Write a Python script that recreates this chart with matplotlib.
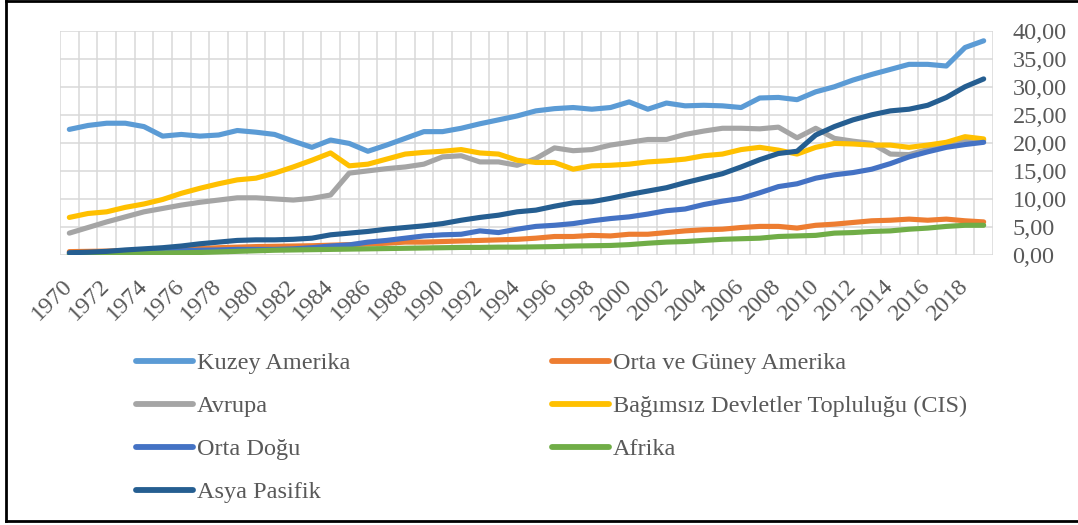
import numpy as np
import matplotlib.pyplot as plt
from matplotlib.lines import Line2D

plt.rcParams['font.family'] = ['Liberation Serif', 'DejaVu Serif']

years = list(range(1970, 2020))

kuzey_amerika = [22.4, 23.1, 23.5, 23.5, 22.9, 21.2, 21.5, 21.2, 21.4, 22.2,
                 21.9, 21.5, 20.3, 19.2, 20.5, 19.9, 18.5, 19.6, 20.8, 22.0,
                 22.0, 22.6, 23.4, 24.1, 24.8, 25.7, 26.1, 26.3, 26.0, 26.3,
                 27.3, 26.0, 27.1, 26.6, 26.7, 26.6, 26.3, 28.0, 28.1, 27.7,
                 29.1, 30.0, 31.2, 32.2, 33.1, 34.0, 34.0, 33.7, 37.0, 38.2]
orta_guney = [0.6, 0.65, 0.7, 0.8, 0.85, 0.95, 1.05, 1.15, 1.3, 1.4,
              1.5, 1.55, 1.6, 1.65, 1.75, 1.85, 1.95, 2.1, 2.3, 2.3,
              2.4, 2.5, 2.6, 2.7, 2.8, 3.0, 3.3, 3.3, 3.5, 3.4,
              3.7, 3.7, 4.0, 4.3, 4.5, 4.6, 4.9, 5.1, 5.1, 4.8,
              5.3, 5.5, 5.8, 6.1, 6.2, 6.4, 6.2, 6.4, 6.1, 5.9]
avrupa = [3.9, 4.9, 5.9, 6.8, 7.7, 8.3, 8.9, 9.4, 9.8, 10.2,
          10.2, 10.0, 9.8, 10.1, 10.7, 14.6, 15.0, 15.4, 15.7, 16.2,
          17.5, 17.7, 16.6, 16.6, 16.0, 17.2, 19.1, 18.6, 18.8, 19.6,
          20.1, 20.6, 20.6, 21.5, 22.1, 22.6, 22.6, 22.5, 22.8, 20.9,
          22.6, 20.8, 20.3, 19.9, 18.0, 17.9, 18.8, 19.8, 20.6, 20.5]
cis = [6.7, 7.4, 7.7, 8.5, 9.1, 9.9, 11.0, 11.9, 12.7, 13.4,
       13.7, 14.6, 15.7, 16.9, 18.2, 15.9, 16.2, 17.1, 18.0, 18.3,
       18.5, 18.8, 18.2, 18.0, 16.9, 16.5, 16.5, 15.3, 15.9, 16.0,
       16.2, 16.6, 16.8, 17.1, 17.7, 18.0, 18.8, 19.2, 18.7, 18.0,
       19.2, 19.9, 19.8, 19.6, 19.6, 19.2, 19.6, 20.1, 21.1, 20.7]
orta_dogu = [0.3, 0.35, 0.4, 0.5, 0.55, 0.6, 0.75, 0.85, 0.9, 1.0,
             1.0, 1.0, 1.1, 1.3, 1.6, 1.8, 2.3, 2.6, 3.0, 3.4,
             3.6, 3.7, 4.3, 4.0, 4.6, 5.1, 5.3, 5.6, 6.1, 6.5,
             6.8, 7.3, 7.9, 8.2, 9.0, 9.6, 10.1, 11.1, 12.2, 12.7,
             13.7, 14.3, 14.7, 15.3, 16.3, 17.5, 18.4, 19.2, 19.7, 20.1]
afrika = [0.1, 0.15, 0.2, 0.25, 0.3, 0.35, 0.4, 0.45, 0.55, 0.65,
          0.75, 0.85, 0.9, 0.95, 1.0, 1.05, 1.1, 1.15, 1.2, 1.25,
          1.3, 1.35, 1.35, 1.4, 1.4, 1.45, 1.5, 1.6, 1.65, 1.7,
          1.85, 2.1, 2.3, 2.4, 2.6, 2.8, 2.9, 3.0, 3.3, 3.4,
          3.5, 3.9, 4.0, 4.2, 4.3, 4.6, 4.8, 5.1, 5.3, 5.3]
asya_pasifik = [0.4, 0.5, 0.65, 0.9, 1.1, 1.3, 1.6, 2.0, 2.3, 2.6,
                2.7, 2.7, 2.8, 3.0, 3.6, 3.9, 4.2, 4.6, 4.9, 5.2,
                5.6, 6.2, 6.7, 7.1, 7.7, 8.0, 8.7, 9.3, 9.5, 10.1,
                10.8, 11.4, 12.0, 12.9, 13.7, 14.5, 15.7, 17.0, 18.1, 18.5,
                21.4, 22.9, 24.1, 25.0, 25.7, 26.0, 26.7, 28.1, 30.0, 31.4]

series = [
    ('Kuzey Amerika', kuzey_amerika, '#5B9BD5'),
    ('Orta ve Güney Amerika', orta_guney, '#ED7D31'),
    ('Avrupa', avrupa, '#A5A5A5'),
    ('Bağımsız Devletler Topluluğu (CIS)', cis, '#FFC000'),
    ('Orta Doğu', orta_dogu, '#4472C4'),
    ('Afrika', afrika, '#70AD47'),
    ('Asya Pasifik', asya_pasifik, '#255E91'),
]

txt = '#595959'
fs = 17.5
fig = plt.figure(figsize=(10.78, 5.25), dpi=100)
ax = fig.add_axes([60/1078, 1-255/525, 933/1078, 224.3/525])

x = np.arange(len(years))
handles = {}
for name, vals, col in series:
    ln, = ax.plot(x, vals, color=col, lw=3.7, solid_capstyle='round',
                  solid_joinstyle='round', label=name)
    handles[name] = ln

ax.set_xlim(-0.5, len(years) - 0.5)
ax.set_ylim(0, 40)
ax.set_yticks(np.arange(0, 41, 5))
ax.set_yticklabels([f'{v:.2f}'.replace('.', ',') for v in range(0, 41, 5)])
ax.yaxis.tick_right()
ax.set_xticks(x[::2])
ax.set_xticklabels([str(y) for y in years[::2]], rotation=45, ha='right',
                   va='center', rotation_mode='anchor')
ax.set_xticks(np.arange(-0.5, len(years), 1), minor=True)
ax.tick_params(axis='both', which='both', length=0, labelsize=fs, colors=txt)
ax.tick_params(axis='y', pad=14)
ax.tick_params(axis='x', pad=20)
ax.grid(False)
ax.grid(True, axis='x', which='minor', color='#D9D9D9', lw=1.1)
ax.grid(True, axis='y', which='major', color='#D9D9D9', lw=1.1)
for s in ax.spines.values():
    s.set_visible(False)
ax.set_axisbelow(True)

order = ['Kuzey Amerika', 'Avrupa', 'Orta Doğu', 'Asya Pasifik',
         'Orta ve Güney Amerika', 'Bağımsız Devletler Topluluğu (CIS)', 'Afrika']
leg_h = [Line2D([], [], color=handles[n].get_color(), lw=4.2,
                solid_capstyle='round') for n in order]
leg = fig.legend(leg_h, order, loc='upper left', bbox_to_anchor=(136/1078, 1-352/525),
                 ncol=2, frameon=False, fontsize=fs, handlelength=2.35,
                 handletextpad=0.16, columnspacing=8.3, labelspacing=0.87,
                 borderaxespad=0, borderpad=0)
for t in leg.get_texts():
    t.set_color(txt)

# outer frame
fig.add_artist(Line2D([6/1078, 6/1078], [1-521/525, 1-1/525], color='black', lw=2,
                      transform=fig.transFigure))
fig.add_artist(Line2D([6/1078, 1], [1-1/525, 1-1/525], color='black', lw=2,
                      transform=fig.transFigure))
fig.add_artist(Line2D([6/1078, 1], [1-521/525, 1-521/525], color='black', lw=2,
                      transform=fig.transFigure))

fig.savefig('out.png', dpi=100)
